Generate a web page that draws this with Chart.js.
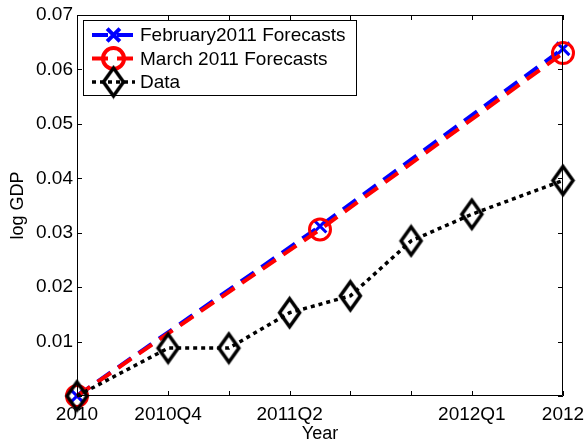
<!DOCTYPE html>
<html>
<head>
<meta charset="utf-8">
<script src="https://cdn.jsdelivr.net/npm/chart.js@4.4.1/dist/chart.umd.min.js"></script>
<style>
    html, body { margin: 0; padding: 0; background: #fff; }
    #wrap { width: 586px; height: 446px; }
</style>
</head>
<body>
<div id="wrap"><canvas id="gdpChart" width="586" height="446"></canvas></div>
<script>
// quarters since 2010 on the x axis
const xTickValues = [0, 1.5, 2.5, 3.5, 4.5, 5.5, 6.5, 8];
const xTickLabels = ['2010', '2010Q4', '', '2011Q2', '', '', '2012Q1', '2012'];
const yTickValues = [0, 0.01, 0.02, 0.03, 0.04, 0.05, 0.06, 0.07];

const forecastX = [0, 4, 8];
const febForecast = [0, 0.0312, 0.0638];
const marForecast = [0, 0.0306, 0.0630];

const dataX = [0, 1.5, 2.5, 3.5, 4.5, 5.5, 6.5, 8];
const gdpData = [0, 0.0088, 0.0088, 0.0153, 0.0184, 0.0285, 0.0334, 0.0396];

const seriesNames = ['February2011 Forecasts', 'March 2011 Forecasts', 'Data'];

const FONT = '"Liberation Sans", Arial, Helvetica, sans-serif';

function toPoints(xs, ys) {
    return xs.map((x, i) => ({ x: x, y: ys[i] }));
}

// tall diamond marker like MATLAB's
function makeDiamond(w, h, lw) {
    const c = document.createElement('canvas');
    c.width = w; c.height = h;
    const g = c.getContext('2d');
    g.strokeStyle = '#000';
    g.lineWidth = lw;
    g.lineJoin = 'miter';
    g.beginPath();
    g.moveTo(w / 2, lw);
    g.lineTo(w - lw, h / 2);
    g.lineTo(w / 2, h - lw);
    g.lineTo(lw, h / 2);
    g.closePath();
    g.stroke();
    return c;
}
const diamond = makeDiamond(27, 35, 3.5);

// box around the axes and inward tick marks on all four sides
const matlabAxes = {
    id: 'matlabAxes',
    afterDatasetsDraw(chart) {
        const ctx = chart.ctx;
        const a = chart.chartArea;
        const xs = chart.scales.x, ys = chart.scales.y;
        const len = 5;
        ctx.save();
        ctx.strokeStyle = '#000';
        ctx.lineWidth = 1;
        ctx.beginPath();
        ctx.rect(a.left + 0.5, a.top + 0.5, a.right - a.left - 1, a.bottom - a.top - 1);
        xTickValues.forEach(v => {
            const px = Math.round(xs.getPixelForValue(v)) + 0.5;
            ctx.moveTo(px, a.bottom);
            ctx.lineTo(px, a.bottom - len);
            ctx.moveTo(px, a.top);
            ctx.lineTo(px, a.top + len);
        });
        yTickValues.forEach(v => {
            const py = Math.round(ys.getPixelForValue(v)) + 0.5;
            ctx.moveTo(a.left, py);
            ctx.lineTo(a.left + len, py);
            ctx.moveTo(a.right, py);
            ctx.lineTo(a.right - len, py);
        });
        ctx.stroke();
        ctx.restore();
    }
};

// legend box in the upper-left corner, line sample plus marker
const boxLegend = {
    id: 'boxLegend',
    afterDraw(chart) {
        const ctx = chart.ctx;
        const box = { left: 83, top: 20, right: 356, bottom: 95 };
        const rows = [35, 58.5, 82];
        ctx.save();
        ctx.fillStyle = '#fff';
        ctx.fillRect(box.left, box.top, box.right - box.left, box.bottom - box.top);
        ctx.strokeStyle = '#000';
        ctx.lineWidth = 1;
        ctx.strokeRect(box.left + 0.5, box.top + 0.5, box.right - box.left, box.bottom - box.top);

        chart.data.datasets.forEach((ds, i) => {
            const y = rows[i];
            ctx.save();
            ctx.strokeStyle = ds.borderColor;
            ctx.lineWidth = ds.borderWidth;
            ctx.setLineDash(ds.borderDash || []);
            ctx.beginPath();
            ctx.moveTo(92, y);
            ctx.lineTo(135, y);
            ctx.stroke();
            ctx.setLineDash([]);
            ctx.strokeStyle = ds.pointBorderColor;
            ctx.fillStyle = 'rgba(0,0,0,0)';
            Chart.helpers.drawPoint(ctx, {
                pointStyle: ds.pointStyle,
                radius: ds.pointRadius,
                borderWidth: ds.pointBorderWidth,
                rotation: 0
            }, 113.5, y);
            ctx.restore();

            ctx.fillStyle = '#000';
            ctx.font = '19px ' + FONT;
            ctx.textBaseline = 'middle';
            ctx.textAlign = 'left';
            ctx.fillText(seriesNames[i], 140, y + 1);
        });
        ctx.restore();
    }
};

new Chart(document.getElementById('gdpChart'), {
    type: 'line',
    data: {
        datasets: [
            {
                label: seriesNames[0],
                data: toPoints(forecastX, febForecast),
                borderColor: '#0000ff',
                borderWidth: 4,
                borderDash: [16, 9],
                pointStyle: 'crossRot',
                pointRadius: 9,
                pointBorderWidth: 3,
                pointBorderColor: '#0000ff',
                pointBackgroundColor: 'rgba(0,0,0,0)',
                clip: false,
                order: 3
            },
            {
                label: seriesNames[1],
                data: toPoints(forecastX, marForecast),
                borderColor: '#ff0000',
                borderWidth: 4,
                borderDash: [16, 9],
                pointStyle: 'circle',
                pointRadius: 10.5,
                pointBorderWidth: 3,
                pointBorderColor: '#ff0000',
                pointBackgroundColor: 'rgba(0,0,0,0)',
                clip: false,
                order: 2
            },
            {
                label: seriesNames[2],
                data: toPoints(dataX, gdpData),
                borderColor: '#000000',
                borderWidth: 3.5,
                borderDash: [4, 4],
                pointStyle: diamond,
                pointRadius: 12,
                pointBorderWidth: 3,
                pointBorderColor: '#000000',
                pointBackgroundColor: 'rgba(0,0,0,0)',
                clip: false,
                order: 1
            }
        ]
    },
    options: {
        responsive: false,
        animation: false,
        events: [],
        layout: { padding: { top: 14, right: 23, left: 0, bottom: 0 } },
        plugins: {
            legend: { display: false },
            tooltip: { enabled: false }
        },
        elements: { line: { tension: 0 } },
        scales: {
            x: {
                type: 'linear',
                min: 0,
                max: 8,
                afterBuildTicks: s => { s.ticks = xTickValues.map(v => ({ value: v })); },
                afterFit: s => {
                    s.height = 50;
                    s.paddingLeft = 0;
                    s.paddingRight = 0;
                },
                grid: { display: false, drawTicks: false },
                border: { display: false },
                ticks: {
                    autoSkip: false,
                    maxRotation: 0,
                    padding: 7,
                    color: '#000',
                    font: { family: FONT, size: 19 },
                    callback: v => xTickLabels[xTickValues.indexOf(v)]
                },
                title: {
                    display: true,
                    text: 'Year',
                    color: '#000',
                    font: { family: FONT, size: 18 },
                    padding: { top: 0, bottom: 1 }
                }
            },
            y: {
                min: 0,
                max: 0.07,
                afterBuildTicks: s => { s.ticks = yTickValues.map(v => ({ value: v })); },
                afterFit: s => {
                    s.width = 77;
                    s.paddingTop = 0;
                    s.paddingBottom = 0;
                },
                grid: { display: false, drawTicks: false },
                border: { display: false },
                ticks: {
                    padding: 4,
                    color: '#000',
                    font: { family: FONT, size: 19 },
                    callback: v => (v === 0 ? '' : v.toFixed(2))
                },
                title: {
                    display: true,
                    text: 'log GDP',
                    color: '#000',
                    font: { family: FONT, size: 18 },
                    padding: { top: 7, bottom: 0 }
                }
            }
        }
    },
    plugins: [matlabAxes, boxLegend]
});
</script>
</body>
</html>
